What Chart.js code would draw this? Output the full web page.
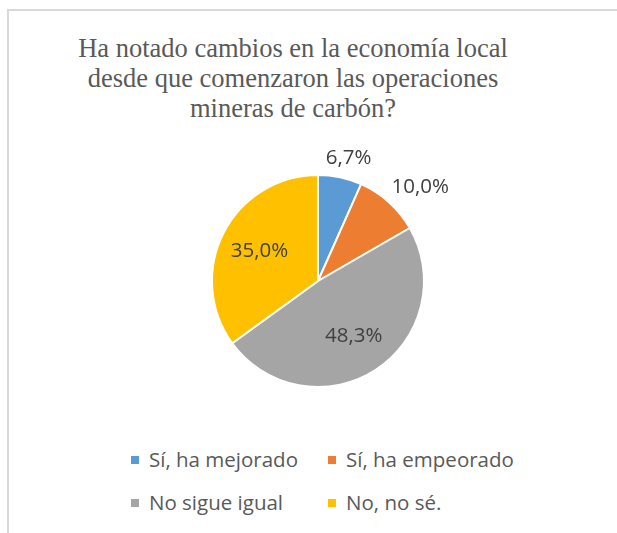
<!DOCTYPE html>
<html>
<head>
<meta charset="utf-8">
<script src="https://cdn.jsdelivr.net/npm/chart.js@4"></script>
<style>
    body { margin: 0; width: 617px; height: 533px; background: #fff; overflow: hidden; position: relative; }
    #frame { position: absolute; left: 7px; top: 9px; width: 620px; height: 540px; border-top: 2px solid #d9d9d9; border-left: 2px solid #d9d9d9; }
    #title { position: absolute; left: 43px; width: 500px; top: 33px; text-align: center; font-family: "Liberation Serif", serif; font-size: 26.5px; line-height: 30px; color: #595959; white-space: nowrap; }
    #chartBox { position: absolute; left: 68px; top: 130px; width: 500px; height: 302px; }
    .legend { position: absolute; font-family: "Open Sans", sans-serif; font-size: 20.5px; line-height: 24px; color: #595959; white-space: nowrap; }
    .legend span.box { position: absolute; left: -18px; top: 9px; width: 8px; height: 8px; }
</style>
</head>
<body>
<div id="frame"></div>
<div id="title">Ha notado cambios en la economía local<br>desde que comenzaron las operaciones<br>mineras de carbón?</div>
<div id="chartBox"><canvas id="pieChart"></canvas></div>
<div id="legend"></div>
<script>
const categories = ["Sí, ha mejorado", "Sí, ha empeorado", "No sigue igual", "No, no sé."];
const responses = [4, 6, 29, 21];
const colors = ["#5B9BD5", "#ED7D31", "#A5A5A5", "#FFC000"];
const outsideLabel = [true, true, false, false];

document.addEventListener("DOMContentLoaded", function () {
    const total = responses.reduce((a, b) => a + b, 0);

    // legend in two columns, like the original
    const legendPos = [[149, 447], [346, 447], [149, 490], [346, 490]];
    const legend = document.getElementById("legend");
    categories.forEach(function (name, i) {
        const div = document.createElement("div");
        div.className = "legend";
        div.style.left = legendPos[i][0] + "px";
        div.style.top = legendPos[i][1] + "px";
        div.innerHTML = '<span class="box" style="background:' + colors[i] + '"></span>' + name;
        legend.appendChild(div);
    });

    // percentage labels on the slices
    const pctLabels = {
        id: "pctLabels",
        afterDatasetsDraw(chart) {
            const ctx = chart.ctx;
            const arcs = chart.getDatasetMeta(0).data;
            ctx.save();
            ctx.font = '20.5px "Open Sans", sans-serif';
            ctx.fillStyle = "#404040";
            ctx.textAlign = "center";
            ctx.textBaseline = "middle";
            arcs.forEach(function (arc, i) {
                const p = arc.getProps(["x", "y", "startAngle", "endAngle", "outerRadius"], true);
                const mid = (p.startAngle + p.endAngle) / 2;
                const text = (responses[i] / total * 100).toFixed(1).replace(".", ",") + "%";
                const w = ctx.measureText(text).width;
                let x, y;
                if (outsideLabel[i]) {
                    const r = p.outerRadius + 18;
                    x = p.x + Math.cos(mid) * r + Math.cos(mid) * w / 2;
                    y = p.y + Math.sin(mid) * r - 2;
                } else {
                    const r = p.outerRadius * 0.62;
                    x = p.x + Math.cos(mid) * r;
                    y = p.y + Math.sin(mid) * r;
                }
                ctx.fillText(text, x, y);
            });
            ctx.restore();
        }
    };

    new Chart(document.getElementById("pieChart"), {
        type: "pie",
        data: {
            labels: categories,
            datasets: [{
                data: responses,
                backgroundColor: colors,
                borderColor: "#ffffff",
                borderWidth: 2
            }]
        },
        options: {
            responsive: true,
            maintainAspectRatio: false,
            animation: false,
            layout: { padding: { top: 44, bottom: 44 } },
            plugins: {
                legend: { display: false },
                tooltip: { enabled: false }
            }
        },
        plugins: [pctLabels]
    });
});
</script>
</body>
</html>
